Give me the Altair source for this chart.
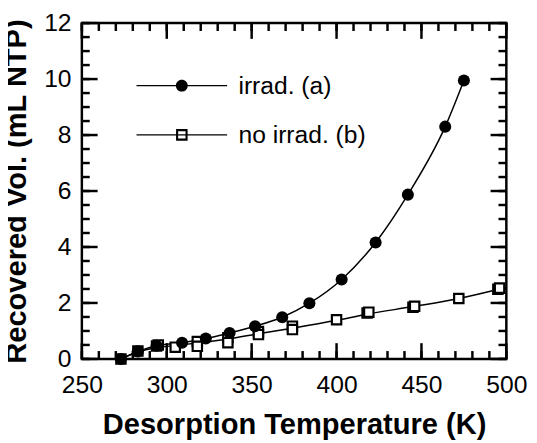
import altair as alt
import pandas as pd

# ---- data ----
series_names = ["irrad. (a)", "no irrad. (b)"]

a_T = [273, 283, 294, 309, 323, 337, 352, 368, 384, 403, 423, 442, 464, 475]
a_V = [0.0, 0.27, 0.47, 0.58, 0.73, 0.93, 1.17, 1.49, 1.99, 2.84, 4.16, 5.87, 8.3, 9.95]

b_T = [273, 283, 294, 295, 305, 318, 318, 336, 336, 354, 354, 374, 374, 400, 418, 419, 445, 446, 472, 495, 496]
b_V = [0.0, 0.28, 0.46, 0.50, 0.42, 0.62, 0.45, 0.76, 0.58, 0.98, 0.87, 1.17, 1.05, 1.40, 1.64, 1.67, 1.85, 1.88, 2.16, 2.49, 2.53]

bfit_T = [273, 283, 294, 305, 318, 336, 354, 374, 400, 418, 445, 472, 496]
bfit_V = [0.0, 0.25, 0.40, 0.48, 0.57, 0.71, 0.90, 1.10, 1.38, 1.60, 1.87, 2.16, 2.50]

x_major = [250, 300, 350, 400, 450, 500]
x_minor = list(range(250, 501, 10))
y_major = [0, 2, 4, 6, 8, 10, 12]
y_minor = [i * 0.5 for i in range(25)]

df_a = pd.DataFrame({"T": a_T, "V": a_V, "series": series_names[0]})
df_b = pd.DataFrame({"T": b_T, "V": b_V, "series": series_names[1]})
df_bfit = pd.DataFrame({"T": bfit_T, "V": bfit_V, "series": series_names[1]})

FONT = "Liberation Sans"
W, H = 431, 341
MAJ, MIN = 16, 8

xs = alt.Scale(domain=[250, 500], nice=False, zero=False)
ys = alt.Scale(domain=[0, 12], nice=False, zero=False)

xaxis = alt.Axis(
    orient="bottom", values=x_major, domain=False, ticks=False, grid=False,
    labelFont=FONT, labelFontSize=25, labelColor="black", labelPadding=14,
    labelFlush=False, labelOverlap=False,
    title="Desorption Temperature (K)", titleFont=FONT, titleFontSize=29.5,
    titleFontWeight="bold", titleColor="black", titlePadding=14,
)
yaxis = alt.Axis(
    orient="left", values=y_major, domain=False, ticks=False, grid=False,
    labelFont=FONT, labelFontSize=25, labelColor="black", labelPadding=11,
    labelFlush=False, labelOverlap=False,
    title="Recovered Vol. (mL NTP)", titleFont=FONT, titleFontSize=29.5,
    titleFontWeight="bold", titleColor="black", titlePadding=12,
)

X = alt.X("T:Q", scale=xs, axis=xaxis)
Y = alt.Y("V:Q", scale=ys, axis=yaxis)


def xticks(values, length, top):
    d = pd.DataFrame({"T": values})
    y0 = 0 if top else H
    y1 = length if top else H - length
    return alt.Chart(d).mark_rule(color="black", strokeWidth=2.5).encode(
        x=X, y=alt.value(y0), y2=alt.value(y1))


def yticks(values, length, right):
    d = pd.DataFrame({"V": values})
    x0 = W if right else 0
    x1 = W - length if right else length
    return alt.Chart(d).mark_rule(color="black", strokeWidth=2.5).encode(
        y=Y, x=alt.value(x0), x2=alt.value(x1))


tick_layers = [
    xticks(x_minor, MIN, False), xticks(x_major, MAJ, False),
    xticks(x_minor, MIN, True), xticks(x_major, MAJ, True),
    yticks(y_minor, MIN, False), yticks(y_major, MAJ, False),
    yticks(y_minor, MIN, True), yticks(y_major, MAJ, True),
]

line_a = alt.Chart(df_a).mark_line(color="black", strokeWidth=1.5, interpolate="monotone").encode(x=X, y=Y)
line_b = alt.Chart(df_bfit).mark_line(color="black", strokeWidth=1.5, interpolate="monotone").encode(x=X, y=Y)
pts_b = alt.Chart(df_b).mark_point(shape="square", size=90, filled=True, fill="white",
                                   stroke="black", strokeWidth=2.2, opacity=1).encode(x=X, y=Y)
pts_a = alt.Chart(df_a).mark_point(shape="circle", size=150, filled=True, color="black", opacity=1).encode(x=X, y=Y)

# legend glyphs drawn as filled outlines: a thin bar (the line) plus the marker
bar = "M-7.67,-0.125L7.67,-0.125L7.67,0.125L-7.67,0.125Z"
path_a = bar + "M-1,0A1,1,0,1,1,1,0A1,1,0,1,1,-1,0Z"
path_b = (bar + "M-0.975,-0.975L0.975,-0.975L0.975,0.975L-0.975,0.975Z"
          + "M-0.625,-0.625L-0.625,0.625L0.625,0.625L0.625,-0.625Z")

leg = alt.Legend(
    title=None, orient="none", legendX=89, legendY=51, padding=0, rowPadding=24,
    labelFont=FONT, labelFontSize=25, labelColor="black", labelOffset=45, labelLimit=400,
    symbolSize=144, symbolFillColor="black", symbolStrokeWidth=0, symbolOpacity=1,
)

legend_layer = alt.Chart(pd.concat([df_a, df_b])).transform_filter("datum.V < -100").mark_point(
    filled=True, color="black", opacity=1).encode(
    x=X, y=Y,
    shape=alt.Shape("series:N", scale=alt.Scale(domain=series_names, range=[path_a, path_b]), legend=leg),
)

chart = alt.layer(*tick_layers, line_a, line_b, pts_b, pts_a, legend_layer).properties(
    width=W, height=H,
    autosize=alt.AutoSizeParams(type="none"),
    padding={"left": 75, "top": 12, "right": 23, "bottom": 80},
).configure_view(stroke="black", strokeWidth=2.5)

chart.save("out.html", embed_options={"renderer": "svg", "actions": False})
